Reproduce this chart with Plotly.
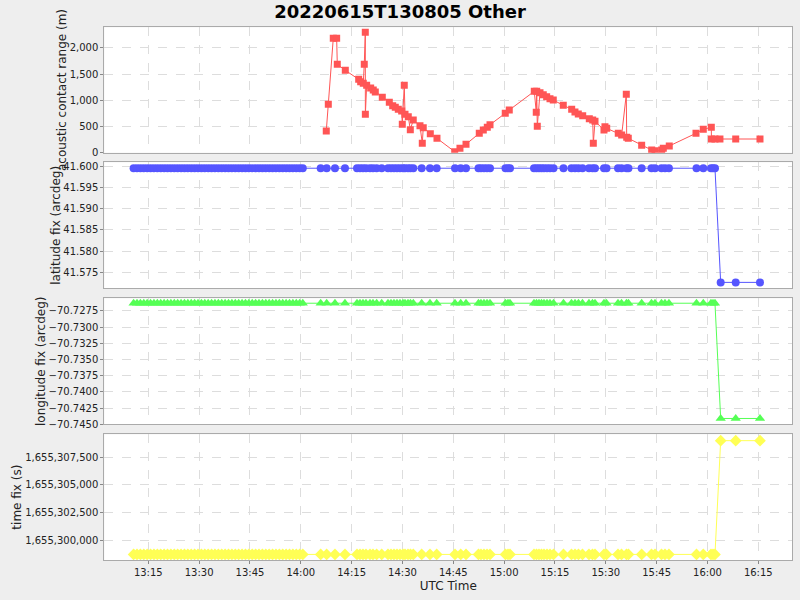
import plotly.graph_objects as go

DAY = "2022-06-15 "

# acoustic contact range samples
range_times = ["14:07:31","14:08:07","14:09:35","14:10:35","14:10:46","14:13:08","14:17:05","14:17:40",
               "14:18:26","14:18:44","14:19:02","14:19:03","14:19:26","14:20:37","14:21:23","14:21:59",
               "14:24:03","14:26:07","14:27:07","14:27:53","14:28:46","14:29:46","14:29:57","14:30:32",
               "14:30:45","14:31:43","14:32:19","14:33:11","14:35:10","14:35:51","14:36:08","14:38:13",
               "14:40:11","14:45:25","14:46:58","14:48:45","14:52:40","14:53:51","14:55:02","14:55:50",
               "15:00:20","15:01:31","15:08:54","15:09:29","15:09:37","15:09:47","15:10:35","15:11:33",
               "15:12:33","15:13:32","15:14:30","15:17:27","15:19:56","15:20:54","15:21:53","15:23:11",
               "15:25:08","15:26:08","15:26:19","15:26:49","15:29:28","15:29:45","15:30:16","15:33:41",
               "15:34:41","15:36:03","15:36:10","15:36:38","15:40:35","15:43:32","15:44:31","15:46:29",
               "15:46:58","15:48:44","15:56:37","15:58:46","16:01:08","16:01:10","16:02:13","16:03:41",
               "16:08:20","16:15:30"]
range_m = [413,922,2179,2179,1684,1570,1398,1353,
           1322,1684,2294,732,1284,1233,1194,1156,
           1055,960,895,865,827,794,541,1284,
           732,686,438,623,514,179,476,362,
           274,19,84,160,370,432,484,533,
           751,813,1170,770,1170,503,1143,1105,
           1067,1029,1004,903,827,775,737,705,
           648,623,179,598,432,495,465,370,
           337,1113,293,274,141,51,38,51,
           84,128,370,446,484,261,261,261,
           261,261]

# position fix samples
fix_times = ["13:10:40","13:11:40","13:12:40","13:13:40","13:14:40","13:15:40","13:16:40","13:17:40",
             "13:18:40","13:19:40","13:20:40","13:21:40","13:22:40","13:23:40","13:24:40","13:25:40",
             "13:26:40","13:27:40","13:28:40","13:29:40","13:30:40","13:31:40","13:32:40","13:33:40",
             "13:34:40","13:35:40","13:36:40","13:37:40","13:38:40","13:39:40","13:40:40","13:41:40",
             "13:42:40","13:43:40","13:44:40","13:45:40","13:46:40","13:47:40","13:48:40","13:49:40",
             "13:50:40","13:51:40","13:52:40","13:53:40","13:54:40","13:55:40","13:56:40","13:57:40",
             "13:58:40","13:59:40","14:00:35",
             "14:05:52","14:07:38","14:10:05","14:13:02","14:16:35","14:17:28","14:18:21","14:19:14",
             "14:20:25","14:21:18","14:22:23","14:23:52","14:25:44","14:26:37","14:27:30","14:28:23",
             "14:29:16","14:30:09","14:30:45","14:31:38","14:32:22","14:33:12","14:35:40","14:38:07",
             "14:40:06","14:45:30","14:47:11","14:48:45","14:52:26","14:53:10","14:54:03","14:54:57",
             "14:55:50","15:00:24","15:01:08","15:01:44","15:08:49","15:09:33","15:10:17","15:11:01",
             "15:11:46","15:12:39","15:13:32","15:14:34","15:17:31","15:19:52","15:20:55","15:21:56",
             "15:23:07","15:25:02","15:26:04","15:26:49","15:29:28","15:30:12","15:33:36","15:34:38",
             "15:36:06","15:36:41","15:40:35","15:43:29","15:44:31","15:46:26","15:47:28","15:48:38",
             "15:56:46","15:58:46","16:01:02","16:01:38","16:02:13","16:03:54","16:08:20","16:15:30"]
n_first_fix = len(fix_times) - 3
lat_fix = [41.5996] * n_first_fix + [41.5726, 41.5726, 41.5726]
lon_fix = [-70.7263] * n_first_fix + [-70.7441, -70.7441, -70.7441]
time_fix = [1655298700] * n_first_fix + [1655309000, 1655309000, 1655309000]

range_ticks = [0, 500, 1000, 1500, 2000]
lat_ticks = [41.575, 41.580, 41.585, 41.590, 41.595, 41.600]
lon_ticks = [-70.7450, -70.7425, -70.7400, -70.7375, -70.7350, -70.7325, -70.7300, -70.7275]
tfix_ticks = [1655300000, 1655302500, 1655305000, 1655307500]

rx = [DAY + t for t in range_times]
fx = [DAY + t for t in fix_times]

FONT = "DejaVu Sans"
fig = go.Figure()
fig.add_trace(go.Scatter(x=rx, y=range_m, mode="lines+markers", xaxis="x", yaxis="y",
                         line=dict(color="#FF5555", width=1),
                         marker=dict(symbol="square", size=7, color="#FF5555")))
fig.add_trace(go.Scatter(x=fx, y=lat_fix, mode="lines+markers", xaxis="x2", yaxis="y2",
                         line=dict(color="#5555FF", width=1),
                         marker=dict(symbol="circle", size=8, color="#5555FF")))
fig.add_trace(go.Scatter(x=fx, y=lon_fix, mode="lines+markers", xaxis="x3", yaxis="y3",
                         line=dict(color="#55FF55", width=1),
                         marker=dict(symbol="triangle-up", size=9, color="#55FF55")))
fig.add_trace(go.Scatter(x=fx, y=time_fix, mode="lines+markers", xaxis="x4", yaxis="y4",
                         line=dict(color="#FFFF55", width=1),
                         marker=dict(symbol="diamond", size=9, color="#FFFF55")))

xrange = [DAY + "13:02:01", DAY + "16:25:02"]
xdom = [104.3 / 800, 792.3 / 800]
ydoms = [(27.3, 152.7), (162.3, 288.3), (298.3, 424.3), (434.3, 560.0)]

def ydom(p):
    return [1 - p[1] / 600, 1 - p[0] / 600]

common_x = dict(type="date", range=xrange, domain=xdom, showgrid=True, gridcolor="#DDDDDD",
                griddash="dash", gridwidth=1, showline=True, linecolor="#AAAAAA", mirror=True,
                zeroline=False, dtick=15 * 60 * 1000, tick0=DAY + "13:00:00", tickformat="%H:%M",
                automargin=False, tickfont=dict(family=FONT, size=10, color="#222222"))
common_y = dict(showgrid=True, gridcolor="#DDDDDD", griddash="dash", gridwidth=1,
                showline=True, linecolor="#AAAAAA", mirror=True, zeroline=False,
                ticks="outside", ticklen=3, tickcolor="#888888", automargin=False,
                tickfont=dict(family=FONT, size=10, color="#222222"),
                title_font=dict(family=FONT, size=12, color="#222222"), title_standoff=0)

layout = dict(
    width=800, height=600, paper_bgcolor="#EEEEEE", plot_bgcolor="#FFFFFF",
    margin=dict(l=0, r=0, t=0, b=0), showlegend=False,
    title=dict(text="<b>20220615T130805 Other</b>", x=0.5, xanchor="center", y=1 - 12 / 600,
               yanchor="middle", font=dict(family=FONT, size=18, color="#000000")),
)
for i in range(4):
    s = "" if i == 0 else str(i + 1)
    xa = dict(common_x, anchor="y" + s, showticklabels=(i == 3),
              ticks="outside" if i == 3 else "", ticklen=3, tickcolor="#888888")
    if i > 0:
        xa["matches"] = "x"
    if i == 3:
        xa["title"] = dict(text="UTC Time", font=dict(family=FONT, size=12, color="#222222"),
                           standoff=4)
    layout["xaxis" + s] = xa

layout["yaxis"] = dict(common_y, anchor="x", domain=ydom(ydoms[0]), range=[0, 2390],
                       tickvals=range_ticks, tickformat=",d",
                       title=dict(text="acoustic contact range (m)"))
layout["yaxis2"] = dict(common_y, anchor="x2", domain=ydom(ydoms[1]), range=[41.5712, 41.6010],
                        tickvals=lat_ticks, tickformat=".3f",
                        title=dict(text="latitude fix (arcdeg)"))
layout["yaxis3"] = dict(common_y, anchor="x3", domain=ydom(ydoms[2]), range=[-70.7450, -70.72554],
                        tickvals=lon_ticks, tickformat=".4f",
                        title=dict(text="longitude fix (arcdeg)"))
layout["yaxis4"] = dict(common_y, anchor="x4", domain=ydom(ydoms[3]), range=[1655298195, 1655309576],
                        tickvals=tfix_ticks, tickformat=",d",
                        title=dict(text="time fix (s)"))

fig.update_layout(**layout)
fig.write_html("out.html", config={"displayModeBar": False},
               post_script="document.body.style.margin='0';document.body.style.overflow='hidden';")
